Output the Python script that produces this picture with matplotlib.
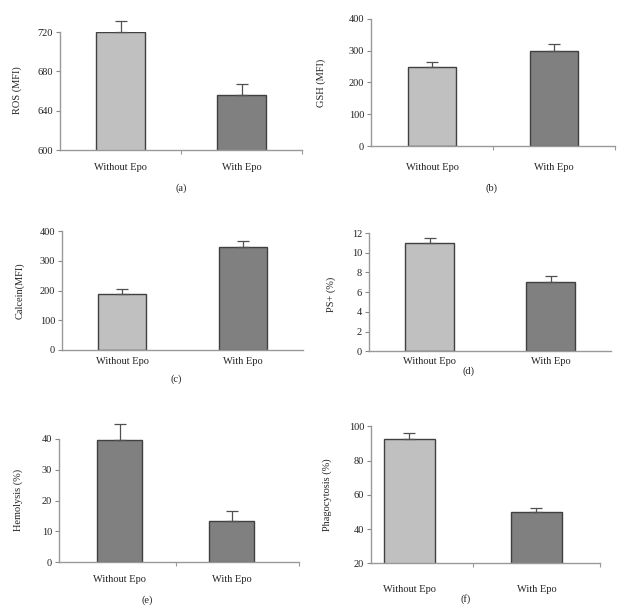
import matplotlib
matplotlib.use("Agg")
import matplotlib.pyplot as plt
import numpy as np

plt.rcParams['font.family'] = ['Liberation Serif', 'DejaVu Serif']

categories = ["Without Epo", "With Epo"]

ros = [720, 656]
ros_err = [11, 11]
gsh = [248, 300]
gsh_err = [17, 22]
calcein = [189, 348]
calcein_err = [15, 18]
ps = [11.0, 7.05]
ps_err = [0.5, 0.6]
hemolysis = [39.6, 13.4]
hemolysis_err = [5.2, 3.1]
phago = [92.3, 49.8]
phago_err = [3.6, 2.3]

LIGHT = "#c0c0c0"
DARK = "#808080"
W, H = 626, 612

fig = plt.figure(figsize=(W / 100, H / 100), dpi=100)

def px_axes(x0, x1, ytop, ybot):
    return fig.add_axes([x0 / W, 1 - ybot / H, (x1 - x0) / W, (ybot - ytop) / H])

panels = [
    # values, err, colors, ylabel, ylim, yticks, xlim, midtick, box(x0,x1,ytop,ybot), ylabel pos, label pos, catlabel y
    (ros, ros_err, [LIGHT, DARK], "ROS (MFI)", (600, 720), [600, 640, 680, 720], (0, 2), True,
     (60, 302, 32, 150), (22, 90), (181, 188, "(a)"), 168),
    (gsh, gsh_err, [LIGHT, DARK], "GSH (MFI)", (0, 400), [0, 100, 200, 300, 400], (0, 2), True,
     (371, 615, 18.7, 146), (326, 83), (492, 188, "(b)"), 168),
    (calcein, calcein_err, [LIGHT, DARK], "Calcein(MFI)", (0, 400), [0, 100, 200, 300, 400], (0, 2), False,
     (62, 303, 231.3, 349.7), (25, 291), (176, 379, "(c)"), 361.7),
    (ps, ps_err, [LIGHT, DARK], "PS+ (%)", (0, 12), [0, 2, 4, 6, 8, 10, 12], (0, 2), False,
     (369, 611, 233, 351.3), (336, 294), (468, 371, "(d)"), 361.7),
    (hemolysis, hemolysis_err, [DARK, DARK], "Hemolysis (%)", (0, 40), [0, 10, 20, 30, 40], (-0.04, 2.1), True,
     (59, 299, 439, 562.3), (23, 500), (147, 600, "(e)"), 580),
    (phago, phago_err, [LIGHT, DARK], "Phagocytosis (%)", (20, 100), [20, 40, 60, 80, 100], (0.2, 2.0), True,
     (371, 600, 426.3, 563.3), (332, 495), (466, 599, "(f)"), 590),
]

x = np.array([0.5, 1.5])
for vals, errs, cols, ylab, ylim, yticks, xlim, midtick, box, ylpos, lab, caty in panels:
    ax = px_axes(*box)
    bars = ax.bar(x, vals, width=0.4, color=cols, edgecolor="#404040", linewidth=1.0, zorder=2)
    ax.errorbar(x, vals, yerr=[[0, 0], errs], fmt="none", ecolor="#505050",
                elinewidth=0.9, capsize=4, capthick=0.9, zorder=3, clip_on=False)
    ax.set_ylim(*ylim)
    ax.set_xlim(*xlim)
    ax.set_yticks(yticks)
    ax.set_yticklabels([str(t) for t in yticks], fontsize=7.5, color="#222222")
    if midtick:
        ax.set_xticks([1, xlim[1]])
    else:
        ax.set_xticks([])
    ax.set_xticklabels([])
    ax.tick_params(axis="y", direction="out", length=3, width=0.8, color="#888888", pad=2)
    ax.tick_params(axis="x", direction="out", length=3, width=0.8, color="#999999")
    for s in ["top", "right"]:
        ax.spines[s].set_visible(False)
    for s in ["left", "bottom"]:
        ax.spines[s].set_color("#999999")
        ax.spines[s].set_linewidth(1.0)
        ax.spines[s].set_zorder(4)
    ax.set_ylabel(ylab, fontsize=7.5, color="#222222")
    ax.yaxis.set_label_coords(ylpos[0] / W, 1 - ylpos[1] / H, transform=fig.transFigure)
    for xi, c in zip(x, categories):
        xf = fig.transFigure.inverted().transform(ax.transData.transform((xi, 0)))[0]
        fig.text(xf, 1 - caty / H, c, ha="center", va="center", fontsize=7.5, color="#222222")
    fig.text(lab[0] / W, 1 - lab[1] / H, lab[2], ha="center", va="center", fontsize=7.5, color="#222222")

fig.savefig("out.png", dpi=100, facecolor="white")
